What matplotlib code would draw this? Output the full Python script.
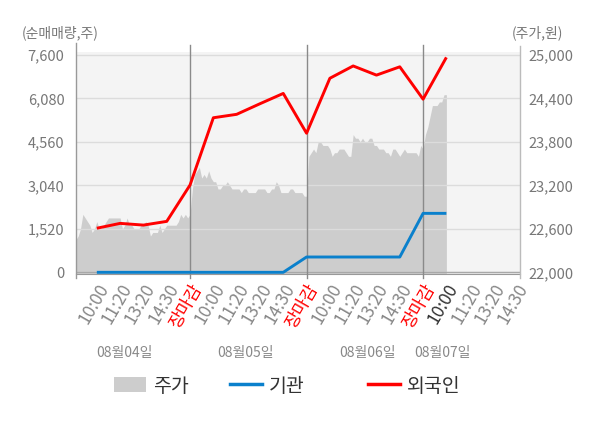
import matplotlib
matplotlib.use('Agg')
import matplotlib.pyplot as plt
import matplotlib.transforms as mtransforms
from matplotlib.lines import Line2D
from matplotlib.patches import Patch

plt.rcParams['font.family'] = ['Noto Sans CJK KR', 'DejaVu Sans']

# ---------------- data ----------------
days = ['08월04일', '08월05일', '08월06일', '08월07일']
times = ['10:00', '11:20', '13:20', '14:30', '장마감']
tick_labels = times * 3 + times[:4]

# net buying (shares), one value per time slot (slot 1..16)
foreign = [1540, 1710, 1650, 1780, 3050, 5400, 5520, 5890, 6250,
           4860, 6780, 7210, 6890, 7180, 6050, 7510]
institution = [0, 0, 0, 0, 0, 0, 0, 0, 0,
               535, 535, 535, 535, 535, 2060, 2060]

# intraday stock price (won), sampled every 0.1 slot within each day
price_day1 = [22450, 22500, 22600, 22800, 22750, 22700, 22650, 22550, 22600, 22700,
              22600, 22600, 22650, 22700, 22750, 22750, 22750, 22750, 22750, 22750,
              22600, 22650, 22750, 22650, 22650, 22600, 22600, 22600, 22650, 22650,
              22700, 22650, 22500, 22550, 22550, 22550, 22650, 22550, 22600, 22650,
              22650, 22650, 22650, 22650, 22700, 22800, 22750, 22800, 22750, 22800]
price_day2 = [23150, 23350, 23400, 23450, 23300, 23350, 23300, 23400, 23300, 23250,
              23250, 23150, 23150, 23200, 23200, 23250, 23200, 23150, 23150, 23150,
              23150, 23100, 23150, 23150, 23100, 23100, 23100, 23100, 23150, 23150,
              23150, 23150, 23100, 23100, 23150, 23150, 23250, 23200, 23100, 23100,
              23100, 23100, 23150, 23150, 23100, 23100, 23100, 23100, 23050, 23050]
price_day3 = [23600, 23650, 23700, 23650, 23800, 23800, 23750, 23750, 23750, 23700,
              23600, 23650, 23650, 23700, 23700, 23700, 23650, 23600, 23600, 23900,
              23850, 23850, 23800, 23850, 23800, 23800, 23850, 23850, 23750, 23750,
              23700, 23700, 23700, 23650, 23650, 23600, 23700, 23700, 23650, 23600,
              23650, 23700, 23650, 23650, 23650, 23650, 23650, 23600, 23750, 23700]
price_day4 = [23900, 24000, 24150, 24300, 24300, 24300, 24350, 24350, 24450, 24450]
price_days = [price_day1, price_day2, price_day3, price_day4]

left_ticks = [0, 1520, 3040, 4560, 6080, 7600]
right_ticks = [22000, 22600, 23200, 23800, 24400, 25000]

legend_labels = ['주가', '기관', '외국인']

# ---------------- build positions ----------------
slots_per_day = len(times)
line_x = list(range(1, len(foreign) + 1))
price_x, price_y = [], []
for d, vals in enumerate(price_days):
    for i, v in enumerate(vals):
        price_x.append(d * slots_per_day + 0.1 * (i + 1))
        price_y.append(v)

# ---------------- figure ----------------
fig = plt.figure(figsize=(6, 4.28), dpi=100)
ax = fig.add_axes([0.1262, 0.3598, 0.7405, 0.5194])
ax2 = ax.twinx()
ax.set_zorder(2)
ax2.set_zorder(1)
ax.patch.set_visible(False)
ax2.patch.set_visible(True)
ax2.patch.set_facecolor('#f4f4f4')

x0, x1 = 0.094, 19.16
ax.set_xlim(x0, x1)
ax.set_ylim(-59, 7708)
ax2.set_ylim(21977, 25043)

GRAY = '#cdcdcd'
BLUE = '#0a80cc'
RED = '#ff0000'

# price area
ax2.fill_between(price_x, price_y, 21900, color=GRAY, lw=0)

# lines
ax.plot(line_x, institution, color=BLUE, lw=2.1, solid_capstyle='butt', zorder=5)
ax.plot(line_x, foreign, color=RED, lw=2.1, solid_capstyle='butt', zorder=6)

# grid
ax.set_yticks(left_ticks)
ax.set_yticklabels([f'{v:,}' for v in left_ticks])
ax.grid(axis='y', color='#dcdcdc', lw=1)
ax.grid(axis='x', visible=False)
ax.axhline(0, color='#a8a8a8', lw=1, zorder=3)

ax2.set_yticks(right_ticks)
ax2.set_yticklabels([f'{v:,}' for v in right_ticks])

for s in ['top', 'right', 'left']:
    ax.spines[s].set_visible(False)
for s in ['top', 'left', 'bottom', 'right']:
    ax2.spines[s].set_visible(False)
ax.spines['bottom'].set_color('#999999')

# day separators and extended borders
for b in [5, 10, 15]:
    ax.axvline(b, ymin=-0.018, ymax=1.03, color='#8a8a8a', lw=1, clip_on=False, zorder=4)
ax.axvline(x0, ymin=-0.018, ymax=1.038, color='#999999', lw=1, clip_on=False, zorder=4)
ax.axvline(x1, ymin=-0.018, ymax=1.027, color='#bbbbbb', lw=1, clip_on=False, zorder=4)

# tick styling
ax.tick_params(axis='y', length=0, pad=8, labelsize=10.5, labelcolor='#777777')
ax2.tick_params(axis='y', length=0, pad=6, labelsize=10.5, labelcolor='#777777')

ax.set_xticks(list(range(1, len(tick_labels) + 1)))
ax.set_xticklabels(tick_labels)
ax.tick_params(axis='x', length=0, pad=5, labelsize=12.5)
last_idx = len(foreign) - 1
for i, lab in enumerate(ax.get_xticklabels()):
    lab.set_rotation(60)
    lab.set_ha('right')
    lab.set_va('top')
    lab.set_rotation_mode('anchor')
    if tick_labels[i] == '장마감':
        lab.set_color(RED)
    elif i == last_idx:
        lab.set_color('#333333')
    else:
        lab.set_color('#888888')

# axis titles
fig.text(22 / 600, 1 - 33 / 428, '(순매매량,주)', ha='left', va='center',
         fontsize=10, color='#777777')
fig.text(563 / 600, 1 - 33 / 428, '(주가,원)', ha='right', va='center',
         fontsize=10, color='#777777')

# date labels
blend = mtransforms.blended_transform_factory(ax.transData, fig.transFigure)
date_pos = [2.2, 7.4, 12.6, 15.85]
for xp, d in zip(date_pos, days):
    ax.text(xp, 1 - 353 / 428, d, transform=blend, ha='center', va='center',
            fontsize=10, color='#888888', clip_on=False)

# legend (three entries placed individually)
handles = [Patch(facecolor=GRAY, edgecolor='none'),
           Line2D([], [], color=BLUE, lw=2.5),
           Line2D([], [], color=RED, lw=2.5)]
legend_left = [114, 230, 368]
for h, lbl, xl in zip(handles, legend_labels, legend_left):
    leg = fig.legend([h], [lbl], loc='center left',
                     bbox_to_anchor=(xl / 600, 1 - 386 / 428), frameon=False,
                     fontsize=14, labelcolor='#333333', handlelength=1.65,
                     handleheight=0.77, handletextpad=0.35, borderpad=0,
                     borderaxespad=0)

fig.savefig('out.png', dpi=100)
